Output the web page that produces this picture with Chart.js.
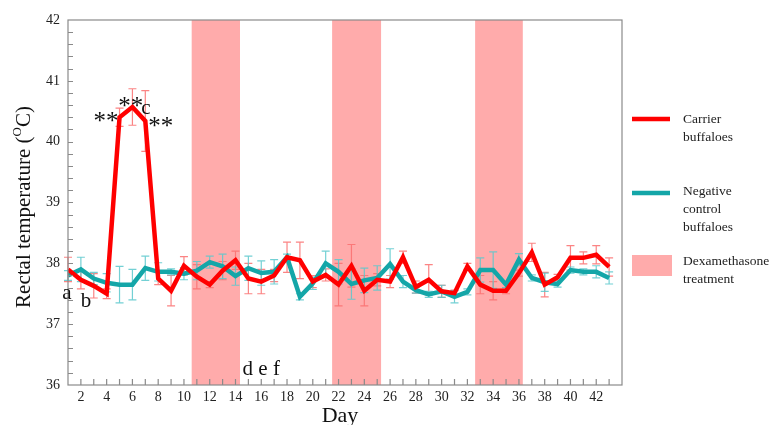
<!DOCTYPE html>
<html>
<head>
<meta charset="utf-8">
<script src="https://cdn.jsdelivr.net/npm/chart.js@4.4.0/dist/chart.umd.min.js"></script>
<style>
  html, body { margin: 0; padding: 0; background: #fff; }
  #wrap { width: 769px; height: 425px; }
</style>
</head>
<body>
<div id="wrap"><canvas id="c" width="769" height="425"></canvas></div>
<script>
// Days 1..43
const days = Array.from({ length: 43 }, (_, i) => i + 1);

// Carrier buffaloes, mean and error
const carrier = [37.90, 37.73, 37.63, 37.50, 40.40, 40.57, 40.34, 37.75, 37.55, 37.96,
  37.78, 37.65, 37.88, 38.05, 37.75, 37.70, 37.80, 38.10, 38.05, 37.70,
  37.81, 37.65, 37.96, 37.55, 37.73, 37.70, 38.10, 37.61, 37.73, 37.54,
  37.51, 37.95, 37.65, 37.55, 37.55, 37.84, 38.18, 37.65, 37.77, 38.09,
  38.09, 38.14, 37.94];
const carrierErr = [0.2, 0.15, 0.2, 0.08, 0.15, 0.3, 0.5, 0.1, 0.25, 0.15,
  0.2, 0.05, 0.15, 0.15, 0.25, 0.2, 0.1, 0.25, 0.3, 0.1,
  0.1, 0.35, 0.35, 0.25, 0.1, 0.1, 0.1, 0.1, 0.25, 0.1,
  0.05, 0.05, 0.15, 0.15, 0.05, 0.05, 0.15, 0.2, 0.05, 0.2,
  0.1, 0.15, 0.15];

// Negative control buffaloes, mean and error
const control = [37.80, 37.90, 37.75, 37.68, 37.65, 37.65, 37.92, 37.86, 37.86, 37.83,
  37.88, 38.02, 37.95, 37.79, 37.92, 37.84, 37.86, 38.10, 37.45, 37.67,
  38.00, 37.86, 37.66, 37.72, 37.76, 37.99, 37.70, 37.56, 37.49, 37.54,
  37.45, 37.53, 37.89, 37.89, 37.65, 38.06, 37.76, 37.69, 37.66, 37.89,
  37.86, 37.86, 37.76];
const controlErr = [0.08, 0.2, 0.1, 0.15, 0.3, 0.25, 0.2, 0.15, 0.05, 0.1,
  0.15, 0.1, 0.2, 0.15, 0.2, 0.2, 0.2, 0.05, 0.05, 0.1,
  0.2, 0.2, 0.25, 0.2, 0.2, 0.25, 0.1, 0.05, 0.05, 0.1,
  0.1, 0.05, 0.2, 0.3, 0.05, 0.1, 0.05, 0.15, 0.05, 0.05,
  0.05, 0.1, 0.1];

// Dexamethasone treatment periods [start, end] in days
const bands = [[10.6, 14.35], [21.5, 25.3], [32.6, 36.3]];

// Significance letters and stars: [text, day, temperature]
const marks = [
  ['**', 3.95, 40.40], ['**', 5.88, 40.65], ['c', 7.05, 40.55], ['**', 8.2, 40.32],
  ['a', 0.92, 37.5], ['b', 2.4, 37.38], ['d e f', 16.0, 36.25]
];

const RED = '#ff0000';
const TEAL = '#14a6a8';
const SERIF = '"Liberation Serif", "DejaVu Serif", serif';

const backdrop = {
  id: 'backdrop',
  beforeDatasetsDraw(chart) {
    const { ctx, chartArea: a, scales: { x, y } } = chart;
    ctx.save();
    ctx.fillStyle = '#ffabab';
    bands.forEach(([s, e]) => {
      const x0 = x.getPixelForValue(s), x1 = x.getPixelForValue(e);
      ctx.fillRect(x0, a.top, x1 - x0, a.bottom - a.top);
    });
    // error bars
    const drawErr = (vals, errs, color) => {
      ctx.strokeStyle = color;
      ctx.lineWidth = 1.2;
      vals.forEach((v, i) => {
        const px = x.getPixelForValue(days[i]);
        const hi = y.getPixelForValue(v + errs[i]);
        const lo = y.getPixelForValue(v - errs[i]);
        ctx.beginPath();
        ctx.moveTo(px, hi); ctx.lineTo(px, lo);
        ctx.moveTo(px - 4, hi); ctx.lineTo(px + 4, hi);
        ctx.moveTo(px - 4, lo); ctx.lineTo(px + 4, lo);
        ctx.stroke();
      });
    };
    drawErr(carrier, carrierErr, 'rgba(250,110,110,0.85)');
    drawErr(control, controlErr, 'rgba(90,200,205,0.85)');
    ctx.restore();
  },
  afterDraw(chart) {
    const { ctx, chartArea: a, scales: { x, y } } = chart;
    ctx.save();
    // frame
    ctx.strokeStyle = '#8a8a8a';
    ctx.lineWidth = 1.2;
    ctx.strokeRect(a.left, a.top, a.right - a.left, a.bottom - a.top);
    // inward ticks
    ctx.beginPath();
    for (let d = 2; d <= 43; d++) {
      const px = x.getPixelForValue(d);
      ctx.moveTo(px, a.bottom); ctx.lineTo(px, a.bottom - 6);
    }
    for (let t = 36.2; t < 42; t += 0.2) {
      const py = Math.round(y.getPixelForValue(t)) + 0.5;
      ctx.moveTo(a.left, py); ctx.lineTo(a.left + 5, py);
    }
    ctx.stroke();

    // significance marks
    ctx.fillStyle = '#111';
    ctx.textAlign = 'center';
    ctx.textBaseline = 'middle';
    marks.forEach(([t, d, v]) => {
      ctx.font = (t === '**' ? '25px ' : '21px ') + SERIF;
      const dy = t === '**' ? 5 : 0;
      ctx.fillText(t, x.getPixelForValue(d), y.getPixelForValue(v) + dy);
    });

    // axis titles
    ctx.font = '22px ' + SERIF;
    ctx.fillText('Day', (a.left + a.right) / 2 - 5, 416);

    ctx.translate(24, 207);
    ctx.rotate(-Math.PI / 2);
    const p1 = 'Rectal temperature (', p2 = 'O', p3 = 'C)';
    ctx.font = '21px ' + SERIF;
    const w1 = ctx.measureText(p1).width, w3 = ctx.measureText(p3).width;
    ctx.font = '13px ' + SERIF;
    const w2 = ctx.measureText(p2).width;
    let sx = -(w1 + w2 + w3) / 2;
    ctx.textAlign = 'left';
    ctx.font = '21px ' + SERIF;
    ctx.fillText(p1, sx, 0);
    ctx.font = '13px ' + SERIF;
    ctx.fillText(p2, sx + w1, -6);
    ctx.font = '21px ' + SERIF;
    ctx.fillText(p3, sx + w1 + w2, 0);
    ctx.setTransform(1, 0, 0, 1, 0, 0);

    // legend
    ctx.lineWidth = 4.5;
    ctx.strokeStyle = RED;
    ctx.beginPath(); ctx.moveTo(632, 119); ctx.lineTo(670, 119); ctx.stroke();
    ctx.strokeStyle = TEAL;
    ctx.beginPath(); ctx.moveTo(632, 193); ctx.lineTo(670, 193); ctx.stroke();
    ctx.fillStyle = '#ffabab';
    ctx.fillRect(632, 255, 40, 21);
    ctx.fillStyle = '#222';
    ctx.font = '13.5px ' + SERIF;
    ctx.textBaseline = 'middle';
    ctx.fillText('Carrier', 683, 119);
    ctx.fillText('buffaloes', 683, 137);
    ctx.fillText('Negative', 683, 191);
    ctx.fillText('control', 683, 209);
    ctx.fillText('buffaloes', 683, 227);
    ctx.fillText('Dexamethasone', 683, 261);
    ctx.fillText('treatment', 683, 279);
    ctx.restore();
  }
};

new Chart(document.getElementById('c'), {
  type: 'line',
  data: {
    labels: days,
    datasets: [
      {
        label: 'Carrier buffaloes',
        data: days.map((d, i) => ({ x: d, y: carrier[i] })),
        borderColor: RED,
        borderWidth: 4.5,
        pointRadius: 0,
        tension: 0,
        borderJoinStyle: 'miter'
      },
      {
        label: 'Negative control buffaloes',
        data: days.map((d, i) => ({ x: d, y: control[i] })),
        borderColor: TEAL,
        borderWidth: 4.5,
        pointRadius: 0,
        tension: 0,
        borderJoinStyle: 'miter'
      }
    ]
  },
  options: {
    responsive: false,
    animation: false,
    layout: { padding: { left: 0, top: 20, right: 147, bottom: 0 } },
    plugins: { legend: { display: false }, tooltip: { enabled: false } },
    scales: {
      x: {
        type: 'linear',
        min: 1,
        max: 44,
        afterFit: (s) => { s.height = 40; },
        grid: { display: false },
        border: { display: false },
        ticks: {
          stepSize: 1,
          autoSkip: false,
          maxRotation: 0,
          padding: -4,
          color: '#222',
          font: { family: SERIF, size: 14 },
          callback: (v) => (v % 2 === 0 && v < 44 ? v : '')
        }
      },
      y: {
        min: 36,
        max: 42,
        afterFit: (s) => { s.width = 68; },
        grid: { display: false },
        border: { display: false },
        ticks: {
          stepSize: 1,
          padding: 0,
          color: '#222',
          font: { family: SERIF, size: 14 }
        }
      }
    }
  },
  plugins: [backdrop]
});
</script>
</body>
</html>
